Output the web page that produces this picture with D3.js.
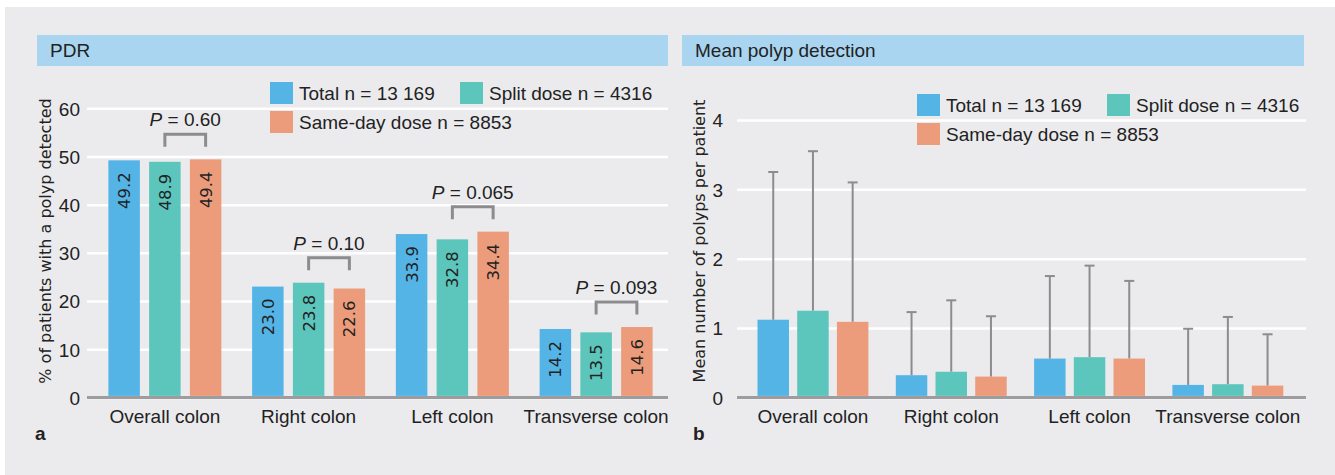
<!DOCTYPE html>
<html>
<head>
<meta charset="utf-8">
<script src="https://cdn.jsdelivr.net/npm/d3@7"></script>
<style>
  body { margin: 0; background: #fff; }
  svg { display: block; }
  text { fill: #222; }
</style>
</head>
<body>
<svg width="1335" height="475"></svg>
<script>
// chart data
const categories = ['Overall colon', 'Right colon', 'Left colon', 'Transverse colon'];
const seriesNames = ['Total n = 13 169', 'Split dose n = 4316', 'Same-day dose n = 8853'];
const seriesColors = ['#55b4e6', '#5cc5bc', '#ec9c7b'];

// panel a: polyp detection rate (%)
const pdrTotal = [49.2, 23.0, 33.9, 14.2];
const pdrSplit = [48.9, 23.8, 32.8, 13.5];
const pdrSameDay = [49.4, 22.6, 34.4, 14.6];
const pValues = ['0.60', '0.10', '0.065', '0.093'];
const pdrTicks = [0, 10, 20, 30, 40, 50, 60];

// panel b: mean polyps per patient + SD
const meanTotal = [1.12, 0.32, 0.56, 0.18];
const meanSplit = [1.25, 0.37, 0.58, 0.19];
const meanSameDay = [1.09, 0.30, 0.56, 0.17];
const sdTotal = [2.13, 0.91, 1.19, 0.81];
const sdSplit = [2.30, 1.03, 1.32, 0.97];
const sdSameDay = [2.01, 0.87, 1.12, 0.74];
const meanTicks = [0, 1, 2, 3, 4];

const svg = d3.select('svg');
const SANS = '"Liberation Sans", Arial, sans-serif';
const DEJA = '"DejaVu Sans", sans-serif';

// grey card
svg.append('rect')
    .attr('x', 5).attr('y', 7)
    .attr('width', 1330).attr('height', 468)
    .attr('fill', '#ebebee');

function drawPanel(p) {
    const g = svg.append('g');

    // title bar
    g.append('rect')
        .attr('x', p.head[0]).attr('y', 35)
        .attr('width', p.head[1] - p.head[0]).attr('height', 31)
        .attr('fill', '#a9d5f0');
    g.append('text')
        .attr('x', p.head[0] + 13).attr('y', 57)
        .style('font', '19px ' + SANS)
        .text(p.title);

    const y = d3.scaleLinear().domain(p.domain).range([397.4, p.top]);
    const x0 = d3.scaleBand().domain(categories).range(p.xRange);
    const x1 = d3.scaleBand().domain([0, 1, 2])
        .range([0, x0.bandwidth()])
        .paddingInner(p.padIn).paddingOuter(p.padOut);

    // gridlines + tick labels
    const axis = g.append('g')
        .attr('transform', `translate(${p.grid[0]},0)`)
        .call(d3.axisLeft(y).tickValues(p.ticks).tickFormat(d3.format('d'))
            .tickSize(-(p.grid[1] - p.grid[0])).tickPadding(p.tickPad));
    axis.select('.domain').remove();
    axis.selectAll('line').attr('stroke', '#fff').attr('stroke-width', 2.5);
    axis.selectAll('text')
        .style('font', '19px ' + SANS).attr('fill', '#222').attr('dy', '0.36em');

    // baseline
    g.append('line')
        .attr('x1', p.grid[0]).attr('x2', p.grid[1])
        .attr('y1', y(0)).attr('y2', y(0))
        .attr('stroke', '#9d9d9f').attr('stroke-width', 3);

    // y title
    g.append('text')
        .attr('transform', `translate(${p.yTitleX},241) rotate(-90)`)
        .attr('text-anchor', 'middle')
        .style('font', '16px ' + DEJA)
        .text(p.yTitle);

    // bars
    const rows = [];
    categories.forEach((c, i) => {
        p.values.forEach((vals, s) => {
            rows.push({ cat: c, s: s, v: vals[i], sd: p.sds ? p.sds[s][i] : null });
        });
    });
    const cx = d => x0(d.cat) + x1(d.s) + x1.bandwidth() / 2;

    // error bars behind bars
    if (p.sds) {
        const eb = g.append('g').attr('stroke', '#8c8c8e').attr('stroke-width', 2);
        eb.selectAll('line.v').data(rows).enter().append('line')
            .attr('x1', cx).attr('x2', cx)
            .attr('y1', d => y(d.v)).attr('y2', d => y(d.v + d.sd));
        eb.selectAll('line.c').data(rows).enter().append('line')
            .attr('x1', d => cx(d) - 5).attr('x2', d => cx(d) + 5)
            .attr('y1', d => y(d.v + d.sd)).attr('y2', d => y(d.v + d.sd));
    }

    g.selectAll('rect.bar').data(rows).enter().append('rect')
        .attr('class', 'bar')
        .attr('x', d => x0(d.cat) + x1(d.s))
        .attr('width', x1.bandwidth())
        .attr('y', d => y(d.v))
        .attr('height', d => y(0) - y(d.v) - 1.5)
        .attr('fill', d => seriesColors[d.s]);

    // value labels inside bars
    if (p.labels) {
        g.selectAll('text.val').data(rows).enter().append('text')
            .attr('transform', d => `translate(${cx(d) + 6},${y(d.v) + 12}) rotate(-90)`)
            .attr('text-anchor', 'end')
            .style('font', '16.5px ' + DEJA)
            .text(d => d.v.toFixed(1));
    }

    // P-value brackets between split and same-day
    if (p.pvals) {
        categories.forEach((c, i) => {
            const mx = d3.max(p.values, vals => vals[i]);
            const xa = x0(c) + x1(1) + x1.bandwidth() / 2;
            const xb = x0(c) + x1(2) + x1.bandwidth() / 2;
            const top = y(mx) - 25;
            const leg = y(mx) - 12.5;
            g.append('path')
                .attr('d', `M${xa},${leg}V${top}H${xb}V${leg}`)
                .attr('fill', 'none').attr('stroke', '#8c8c8e').attr('stroke-width', 3);
            const t = g.append('text')
                .attr('x', (xa + xb) / 2).attr('y', top - 8)
                .attr('text-anchor', 'middle')
                .style('font', '19px ' + SANS);
            t.append('tspan').style('font-style', 'italic').text('P');
            t.append('tspan').text(' = ' + p.pvals[i]);
        });
    }

    // category labels
    g.selectAll('text.cat').data(categories).enter().append('text')
        .attr('x', d => x0(d) + x0.bandwidth() / 2)
        .attr('y', 423)
        .attr('text-anchor', 'middle')
        .style('font', '19px ' + SANS)
        .text(d => d);

    // legend
    const lg = g.append('g').attr('transform', `translate(${p.legend[0]},${p.legend[1]})`);
    const spots = [[0, 0], [190, 0], [0, 29]];
    seriesNames.forEach((name, s) => {
        lg.append('rect')
            .attr('x', spots[s][0]).attr('y', spots[s][1])
            .attr('width', 23).attr('height', 22)
            .attr('fill', seriesColors[s]);
        lg.append('text')
            .attr('x', spots[s][0] + 29).attr('y', spots[s][1] + 18)
            .style('font', '19px ' + SANS)
            .text(name);
    });

    // panel letter
    g.append('text')
        .attr('x', p.letterX).attr('y', 440)
        .style('font', 'bold 19px ' + SANS)
        .text(p.letter);
}

drawPanel({
    title: 'PDR', head: [37, 668],
    domain: [0, 60], top: 108.3, ticks: pdrTicks, tickPad: 7,
    xRange: [93, 668], padIn: 0.227, padOut: 0.377,
    grid: [87, 668], yTitleX: 50.5,
    yTitle: '% of patients with a polyp detected',
    values: [pdrTotal, pdrSplit, pdrSameDay],
    labels: true, pvals: pValues,
    legend: [270, 82], letter: 'a', letterX: 35
});

drawPanel({
    title: 'Mean polyp detection', head: [682, 1304],
    domain: [0, 4], top: 120, ticks: meanTicks, tickPad: 14,
    xRange: [743.8, 1297], padIn: 0.207, padOut: 0.345,
    grid: [737, 1306], yTitleX: 705,
    yTitle: 'Mean number of polyps per patient',
    values: [meanTotal, meanSplit, meanSameDay],
    sds: [sdTotal, sdSplit, sdSameDay],
    legend: [917, 94], letter: 'b', letterX: 693
});
</script>
</body>
</html>
